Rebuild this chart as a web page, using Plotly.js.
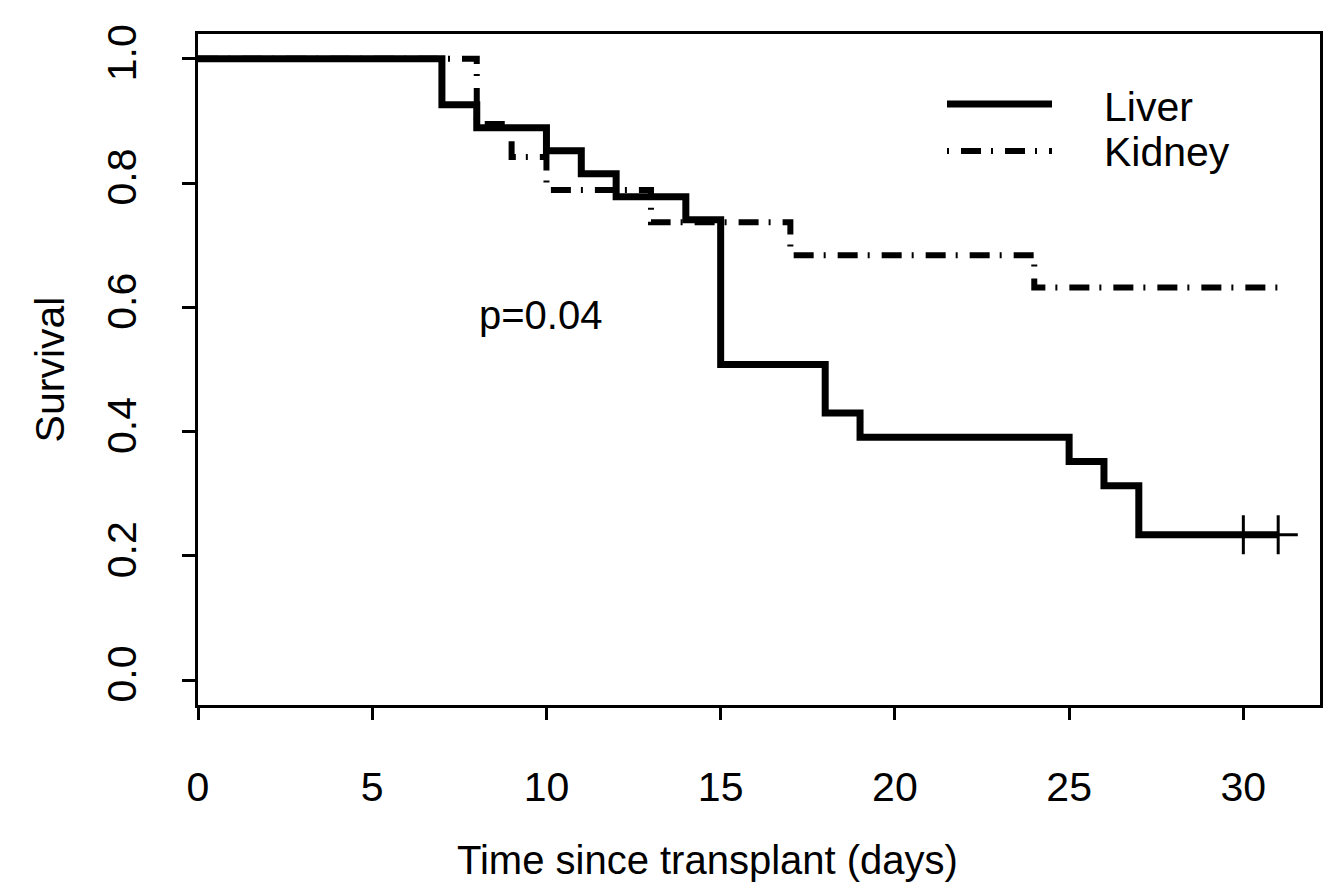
<!DOCTYPE html>
<html>
<head>
<meta charset="utf-8">
<script src="https://cdn.plot.ly/plotly-3.0.1.min.js"></script>
<style>html,body{margin:0;padding:0;background:#fff;}#chart{width:1330px;height:892px;}</style>
</head>
<body>
<div id="chart"></div>
<script>
// Liver group: Kaplan-Meier step points (time in days, survival)
var liverTime = [0, 7, 8, 10, 11, 12, 14, 15, 18, 19, 25, 26, 27, 31];
var liverSurv = [1.0, 0.926, 0.889, 0.852, 0.815, 0.778, 0.741, 0.508, 0.430, 0.391, 0.352, 0.313, 0.234, 0.234];
var liverCensorTime = [30, 31];
var liverCensorSurv = [0.234, 0.234];

// Kidney group
var kidneyTime = [0, 8, 9, 10, 13, 17, 24, 31];
var kidneySurv = [1.0, 0.895, 0.842, 0.789, 0.737, 0.684, 0.632, 0.632];

var xTicks = [0, 5, 10, 15, 20, 25, 30];
var yTicks = [0.0, 0.2, 0.4, 0.6, 0.8, 1.0];
var yTickText = ['0.0', '0.2', '0.4', '0.6', '0.8', '1.0'];
var groupNames = ['Liver', 'Kidney'];
var pText = 'p=0.04';
var pPos = [9.84, 0.588];

var FONT = 'Liberation Sans, Arial, sans-serif';
var liverLine = {color: '#000', width: 7, shape: 'hv'};
var kidneyLine = {color: '#000', width: 6, shape: 'hv', dash: '20px,10px,2px,12px'};

var traces = [
  {x: liverTime, y: liverSurv, mode: 'lines', line: liverLine, name: groupNames[0], showlegend: false},
  {x: kidneyTime, y: kidneySurv, mode: 'lines', line: kidneyLine, name: groupNames[1], showlegend: false},
  {x: liverCensorTime, y: liverCensorSurv, mode: 'markers', showlegend: false,
   marker: {symbol: 'cross-thin', size: 28, color: '#000', line: {color: '#000', width: 3}}}
];

var W = 1330, H = 892, mL = 198, mR = 10, mT = 34, mB = 187;
var pw = W - mL - mR, ph = H - mT - mB;
function px(x) { return (x - mL) / pw; }
function py(y) { return (H - mB - y) / ph; }

var layout = {
  width: W, height: H,
  margin: {l: mL, r: mR, t: mT, b: mB},
  paper_bgcolor: '#fff', plot_bgcolor: '#fff',
  showlegend: false,
  font: {family: FONT, color: '#000', size: 41},
  xaxis: {
    range: [0, 32.2], tickvals: xTicks, ticktext: xTicks.map(String),
    ticks: 'outside', ticklen: 12, tickwidth: 3, tickcolor: '#000',
    showline: true, linewidth: 3, linecolor: '#000', mirror: true,
    showgrid: false, zeroline: false,
    tickfont: {family: FONT, size: 41, color: '#000'},
    ticklabelstandoff: 32
  },
  yaxis: {
    range: [-0.04, 1.04], tickvals: yTicks, ticktext: yTickText,
    ticks: 'outside', ticklen: 13, tickwidth: 3, tickcolor: '#000',
    showline: true, linewidth: 3, linecolor: '#000', mirror: true,
    showgrid: false, zeroline: false, tickangle: -90,
    tickfont: {family: FONT, size: 41, color: '#000'},
    ticklabelstandoff: 30,
    title: {text: 'Survival', font: {family: FONT, size: 41, color: '#000'}, standoff: 22}
  },
  shapes: [
    {type: 'line', xref: 'paper', yref: 'paper', x0: px(947), x1: px(1052), y0: py(104), y1: py(104),
     line: {color: '#000', width: 7}},
    {type: 'line', xref: 'paper', yref: 'paper', x0: px(947), x1: px(1052), y0: py(151), y1: py(151),
     line: {color: '#000', width: 6, dash: '2px,12px,20px,10px'}}
  ],
  annotations: [
    {text: pText, x: pPos[0], y: pPos[1], xref: 'x', yref: 'y', showarrow: false,
     font: {family: FONT, size: 40, color: '#000'}},
    {text: groupNames[0], x: px(1102), y: py(107), xref: 'paper', yref: 'paper', xanchor: 'left', yanchor: 'middle',
     showarrow: false, font: {family: FONT, size: 41, color: '#000'}},
    {text: groupNames[1], x: px(1102), y: py(152), xref: 'paper', yref: 'paper', xanchor: 'left', yanchor: 'middle',
     showarrow: false, font: {family: FONT, size: 41, color: '#000'}},
    {text: 'Time since transplant (days)', x: px(707), y: py(860), xref: 'paper', yref: 'paper',
     xanchor: 'center', yanchor: 'middle', showarrow: false, font: {family: FONT, size: 40, color: '#000'}}
  ]
};

Plotly.newPlot('chart', traces, layout, {displayModeBar: false, staticPlot: true});
</script>
</body>
</html>
